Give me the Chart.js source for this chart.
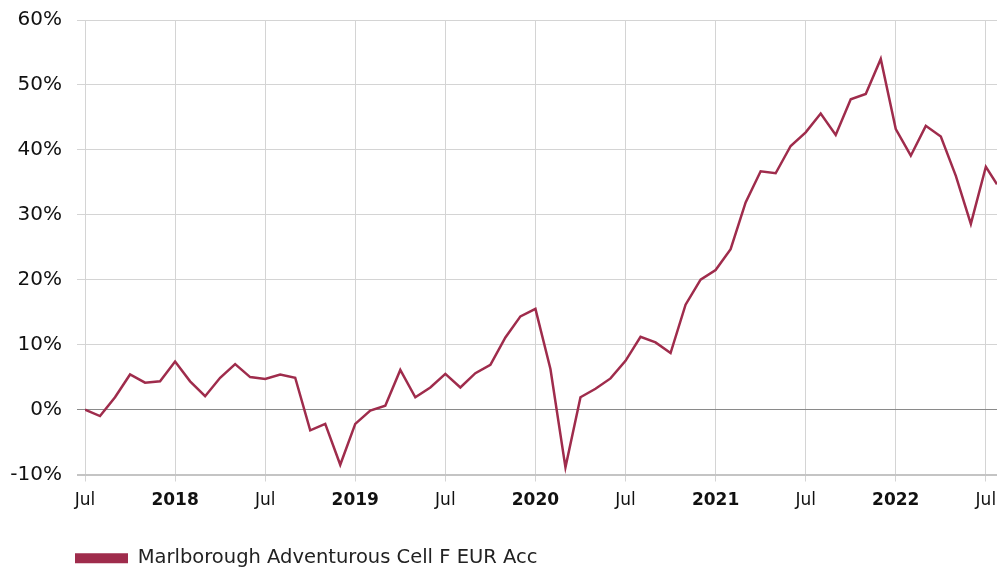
<!DOCTYPE html>
<html>
<head>
<meta charset="utf-8">
<script src="https://cdn.jsdelivr.net/npm/chart.js@4.4.0/dist/chart.umd.min.js"></script>
<style>
  html, body { margin: 0; padding: 0; background: #fff; overflow: hidden; }
  #wrap { width: 997px; height: 570px; position: relative; }
</style>
</head>
<body>
<div id="wrap"><canvas id="myChart"></canvas></div>
<script>
// monthly dates (last one is a partial month)
const dates = [
  '2017-07', '2017-08', '2017-09', '2017-10', '2017-11', '2017-12',
  '2018-01', '2018-02', '2018-03', '2018-04', '2018-05', '2018-06',
  '2018-07', '2018-08', '2018-09', '2018-10', '2018-11', '2018-12',
  '2019-01', '2019-02', '2019-03', '2019-04', '2019-05', '2019-06',
  '2019-07', '2019-08', '2019-09', '2019-10', '2019-11', '2019-12',
  '2020-01', '2020-02', '2020-03', '2020-04', '2020-05', '2020-06',
  '2020-07', '2020-08', '2020-09', '2020-10', '2020-11', '2020-12',
  '2021-01', '2021-02', '2021-03', '2021-04', '2021-05', '2021-06',
  '2021-07', '2021-08', '2021-09', '2021-10', '2021-11', '2021-12',
  '2022-01', '2022-02', '2022-03', '2022-04', '2022-05', '2022-06',
  '2022-07', '2022-07-24'
];
const fundReturn = [
  0, -1.0, 1.9, 5.4, 4.15, 4.35,
  7.4, 4.35, 2.05, 4.9, 7.0, 5.0,
  4.7, 5.4, 4.9, -3.2, -2.2, -8.5,
  -2.2, -0.15, 0.6, 6.1, 1.9, 3.4,
  5.5, 3.4, 5.6, 6.9, 11.1, 14.35,
  15.5, 6.25, -8.9, 1.9, 3.2, 4.8,
  7.5, 11.2, 10.35, 8.7, 16.15, 20.0,
  21.5, 24.7, 31.9, 36.7, 36.4, 40.6,
  42.7, 45.6, 42.3, 47.8, 48.6, 54.0,
  43.2, 39.1, 43.7, 42.05, 36.0, 28.6,
  37.4, 34.7
];
const seriesName = 'Marlborough Adventurous Cell F EUR Acc';
const xTicks = [0, 6, 12, 18, 24, 30, 36, 42, 48, 54, 60];
const yTicks = [-10, 0, 10, 20, 30, 40, 50, 60];

const FONT = '"DejaVu Sans", Verdana, sans-serif';
const LINE_COLOR = '#9f2c4c';

// months since Jul 2017
function monthIndex(s) {
  const p = s.split('-').map(Number);
  let idx = (p[0] - 2017) * 12 + (p[1] - 7);
  if (p[2]) idx += (p[2] - 1) / 31;
  return idx;
}

const points = dates.map((d, i) => ({ x: monthIndex(d), y: fundReturn[i] }));

// nudge the legend to where the original has it
const legendShift = {
  id: 'legendShift',
  afterLayout(chart) {
    const lg = chart.legend;
    if (!lg) return;
    lg.left += 65; lg.right += 65;
    lg.top += 8; lg.bottom += 8;
  }
};

let ctx = document.getElementById('myChart').getContext('2d');
new Chart(ctx, {
  type: 'line',
  data: {
    datasets: [{
      label: seriesName,
      data: points,
      borderColor: LINE_COLOR,
      backgroundColor: LINE_COLOR,
      borderWidth: 2.5,
      pointRadius: 0,
      tension: 0,
      fill: false
    }]
  },
  plugins: [legendShift],
  options: {
    responsive: true,
    maintainAspectRatio: false,
    animation: false,
    layout: { padding: { top: 20, right: 0, left: 0, bottom: 0 } },
    plugins: {
      tooltip: { enabled: false },
      legend: {
        position: 'bottom',
        align: 'start',
        labels: {
          boxWidth: 53,
          boxHeight: 10,
          padding: 10,
          color: '#222',
          font: { family: FONT, size: 19.5 },
          generateLabels: chart => {
            const items = Chart.defaults.plugins.legend.labels.generateLabels(chart);
            items.forEach(it => { it.lineWidth = 0; });
            return items;
          }
        }
      }
    },
    scales: {
      x: {
        type: 'linear',
        min: 0,
        max: monthIndex(dates[dates.length - 1]),
        afterBuildTicks: s => { s.ticks = xTicks.map(v => ({ value: v })); },
        afterFit: s => { s.paddingRight = 0; s.paddingLeft = 0; s.height = 56; },
        border: { display: false },
        grid: { color: '#d4d4d4', lineWidth: 1, tickLength: 7 },
        ticks: {
          maxRotation: 0,
          autoSkip: false,
          color: '#111',
          padding: 9,
          font: c => ({
            family: FONT,
            size: 17,
            weight: (c.tick && c.tick.value % 12 === 6) ? 'bold' : 'normal'
          }),
          callback: v => (v % 12 === 0 ? 'Jul' : String(2017 + (v + 6) / 12))
        }
      },
      y: {
        min: -10,
        max: 60,
        afterBuildTicks: s => { s.ticks = yTicks.map(v => ({ value: v })); },
        afterFit: s => { s.width = 85; s.paddingTop = 0; s.paddingBottom = 0; },
        border: { display: false },
        grid: {
          color: c => (c.tick && c.tick.value === 0 ? '#8a8a8a' : (c.tick && c.tick.value === -10 ? '#c4c4c4' : '#d4d4d4')),
          lineWidth: c => (c.tick && c.tick.value === -10 ? 2 : 1),
          tickLength: 8
        },
        ticks: {
          color: '#111',
          padding: 15,
          font: { family: FONT, size: 20 },
          callback: v => v + '%'
        }
      }
    }
  }
});
</script>
</body>
</html>
